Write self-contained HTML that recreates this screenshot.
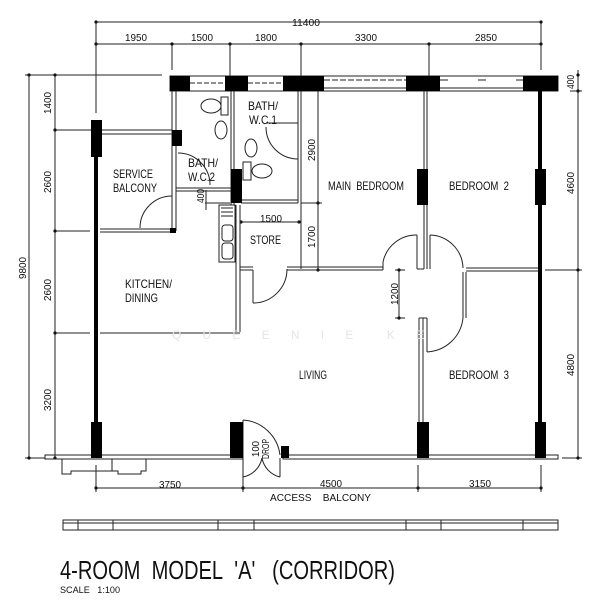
<!DOCTYPE html>
<html><head><meta charset="utf-8"><style>
html,body{margin:0;padding:0;background:#fff;}
svg{display:block;}
text{font-family:"Liberation Sans",sans-serif;fill:#111;}
</style></head><body>
<svg width="613" height="600" viewBox="0 0 613 600" xmlns="http://www.w3.org/2000/svg">
<rect width="613" height="600" fill="#fff"/>
<g stroke="#222" stroke-width="1" fill="none">
<line x1="96" y1="22" x2="541" y2="22"/>
<line x1="96" y1="44" x2="541" y2="44"/>
<line x1="96" y1="22" x2="96" y2="113"/>
<line x1="541" y1="22" x2="541" y2="70"/>
<line x1="172" y1="44" x2="172" y2="70"/>
<line x1="230" y1="44" x2="230" y2="76"/>
<line x1="301" y1="44" x2="301" y2="76"/>
<line x1="429" y1="44" x2="429" y2="76"/>
<line x1="29" y1="75" x2="29" y2="458"/>
<line x1="55" y1="75" x2="55" y2="458"/>
<line x1="25" y1="75" x2="162" y2="75"/>
<line x1="55" y1="130" x2="92" y2="130"/>
<line x1="55" y1="231" x2="90" y2="231"/>
<line x1="55" y1="333" x2="90" y2="333"/>
<line x1="25" y1="458" x2="45" y2="458"/>
<line x1="578" y1="70" x2="578" y2="458"/>
<line x1="570" y1="91" x2="582" y2="91"/>
<line x1="545" y1="270" x2="582" y2="270"/>
<line x1="562" y1="458" x2="582" y2="458"/>
<line x1="96" y1="488" x2="541" y2="488"/>
<line x1="96" y1="465" x2="96" y2="492"/>
<line x1="243" y1="465" x2="243" y2="492"/>
<line x1="418" y1="465" x2="418" y2="492"/>
<line x1="541" y1="465" x2="541" y2="492"/>
<line x1="318" y1="91" x2="318" y2="270"/>
<line x1="301" y1="203" x2="322" y2="203"/>
<line x1="241" y1="222" x2="299" y2="222"/>
<line x1="399" y1="270" x2="399" y2="318"/>
<line x1="395" y1="270" x2="405" y2="270"/>
<line x1="395" y1="318" x2="405" y2="318"/>
<line x1="205" y1="203" x2="230" y2="203"/>
<line x1="206" y1="190" x2="206" y2="210"/>
</g>
<g fill="#111">
<circle cx="96" cy="22" r="1.6"/><circle cx="541" cy="22" r="1.6"/>
<circle cx="96" cy="44" r="1.6"/><circle cx="172" cy="44" r="1.6"/><circle cx="230" cy="44" r="1.6"/><circle cx="301" cy="44" r="1.6"/><circle cx="429" cy="44" r="1.6"/><circle cx="541" cy="44" r="1.6"/>
<circle cx="29" cy="75" r="1.6"/><circle cx="55" cy="75" r="1.6"/><circle cx="55" cy="130" r="1.6"/><circle cx="55" cy="231" r="1.6"/><circle cx="55" cy="333" r="1.6"/><circle cx="55" cy="458" r="1.6"/><circle cx="29" cy="458" r="1.6"/>
<circle cx="578" cy="75" r="1.6"/><circle cx="578" cy="91" r="1.6"/><circle cx="578" cy="270" r="1.6"/><circle cx="578" cy="458" r="1.6"/>
<circle cx="96" cy="488" r="1.6"/><circle cx="243" cy="488" r="1.6"/><circle cx="418" cy="488" r="1.6"/><circle cx="541" cy="488" r="1.6"/>
<circle cx="318" cy="203" r="1.6"/><circle cx="318" cy="270" r="1.6"/><circle cx="241" cy="222" r="1.6"/><circle cx="299" cy="222" r="1.6"/>
<circle cx="399" cy="270" r="1.6"/><circle cx="399" cy="318" r="1.6"/>
</g>
<g stroke="#222" stroke-width="1" fill="none">
<rect x="170" y="76" width="388" height="15"/>
<line x1="190" y1="83" x2="225" y2="83" stroke-dasharray="5,2"/>
<line x1="248" y1="83" x2="283" y2="83" stroke-dasharray="5,2"/>
<line x1="324" y1="80" x2="406" y2="80" stroke-dasharray="6,2"/>
<line x1="440" y1="80" x2="523" y2="80" stroke-dasharray="8,30"/>
<line x1="324" y1="88" x2="406" y2="88"/>
<line x1="440" y1="88" x2="523" y2="88"/>
<line x1="100" y1="130" x2="172" y2="130"/><line x1="100" y1="134" x2="172" y2="134"/>
<line x1="172" y1="91" x2="172" y2="231"/><line x1="176" y1="91" x2="176" y2="231"/>
<line x1="100" y1="229" x2="176" y2="229"/><line x1="100" y1="232" x2="176" y2="232"/>
<path d="M140 228 A32 32 0 0 1 172 196"/><line x1="172" y1="196" x2="172" y2="228"/>
<line x1="176" y1="188" x2="231" y2="188"/><line x1="176" y1="191" x2="231" y2="191"/>
<path d="M178 153 A32 32 0 0 1 210 185"/>
<line x1="231" y1="91" x2="231" y2="205"/><line x1="234" y1="91" x2="234" y2="205"/>
<line x1="298" y1="91" x2="298" y2="203"/><line x1="301" y1="91" x2="301" y2="269"/>
<line x1="241" y1="200" x2="298" y2="200"/><line x1="241" y1="203" x2="298" y2="203"/>
<line x1="266" y1="123" x2="298" y2="123"/>
<path d="M266 127 A32 32 0 0 0 298 159"/>
<ellipse cx="211" cy="106" rx="10" ry="7"/><rect x="221" y="97" width="7" height="18"/>
<ellipse cx="221" cy="130" rx="6" ry="9"/>
<ellipse cx="251" cy="148" rx="6" ry="9"/>
<ellipse cx="262" cy="171" rx="10" ry="7"/><rect x="243" y="162" width="8" height="18"/>
<rect x="219" y="205" width="16" height="57"/>
<rect x="222" y="225" width="11" height="16" rx="3"/><rect x="222" y="243" width="11" height="16" rx="3"/>
<line x1="221" y1="208" x2="233" y2="208"/><line x1="221" y1="212" x2="233" y2="212"/><line x1="221" y1="216" x2="233" y2="216"/>
<line x1="236" y1="205" x2="236" y2="332"/><line x1="240" y1="205" x2="240" y2="332"/>
<line x1="100" y1="333" x2="240" y2="333"/>
<line x1="240" y1="267" x2="253" y2="267"/><line x1="240" y1="270" x2="253" y2="270"/>
<line x1="287" y1="267" x2="383" y2="267"/><line x1="287" y1="270" x2="383" y2="270"/>
<line x1="253" y1="270" x2="253" y2="303"/><path d="M253 303 A34 34 0 0 0 287 269"/>
<line x1="383" y1="262" x2="383" y2="270"/>
<path d="M383 262 A34 34 0 0 1 417 235"/><line x1="417" y1="235" x2="417" y2="269"/>
<line x1="424" y1="91" x2="424" y2="269"/><line x1="427" y1="91" x2="427" y2="269"/>
<line x1="417" y1="269" x2="424" y2="269"/>
<path d="M430 235 A34 34 0 0 1 463 268"/><line x1="430" y1="235" x2="430" y2="269"/>
<line x1="466" y1="268" x2="538" y2="268"/><line x1="466" y1="271" x2="538" y2="271"/>
<line x1="463" y1="272" x2="463" y2="318"/><line x1="466" y1="272" x2="466" y2="318"/>
<line x1="419" y1="318" x2="419" y2="456"/><line x1="423" y1="318" x2="423" y2="456"/>
<line x1="419" y1="318" x2="427" y2="318"/><line x1="427" y1="318" x2="427" y2="352"/>
<path d="M427 352 A38 38 0 0 0 463 318"/>
<rect x="45" y="455" width="198" height="4"/>
<rect x="283" y="455" width="275" height="4"/>
<path d="M62 459 V474 H71 V471 H118 V474 H141 V471 H146 V459"/>
<line x1="112" y1="459" x2="112" y2="471"/>
<path d="M243 420 A40 40 0 0 1 280 455"/><line x1="243" y1="420" x2="243" y2="455"/>
<path d="M243 477 A24 24 0 0 0 262 458 A24 24 0 0 0 280 477"/><line x1="243" y1="458" x2="243" y2="477"/><line x1="280" y1="458" x2="280" y2="477"/>
<rect x="63" y="520" width="495" height="10"/>
<line x1="63" y1="523" x2="558" y2="523"/>
<line x1="78" y1="520" x2="78" y2="530"/><line x1="113" y1="520" x2="113" y2="530"/>
<line x1="218" y1="520" x2="218" y2="530"/><line x1="254" y1="520" x2="254" y2="530"/>
<line x1="406" y1="520" x2="406" y2="530"/><line x1="441" y1="520" x2="441" y2="530"/>
<line x1="523" y1="520" x2="523" y2="530"/>
</g>
<g fill="#000">
<rect x="170" y="76" width="20" height="15"/>
<rect x="225" y="76" width="23" height="15"/>
<rect x="283" y="76" width="41" height="15"/>
<rect x="406" y="76" width="34" height="15"/>
<rect x="523" y="76" width="35" height="15"/>
<rect x="94" y="130" width="4" height="328"/>
<rect x="91" y="120" width="11" height="37"/>
<rect x="91" y="422" width="11" height="36"/>
<rect x="172" y="130" width="10" height="16"/>
<rect x="231" y="169" width="11" height="34"/>
<rect x="538" y="91" width="4" height="367"/>
<rect x="535" y="169" width="11" height="36"/>
<rect x="535" y="422" width="11" height="36"/>
<rect x="417" y="169" width="11" height="36"/>
<rect x="417" y="422" width="12" height="36"/>
<rect x="230" y="422" width="13" height="36"/>
<rect x="281" y="446" width="8" height="12"/>
<rect x="170" y="228" width="6" height="5"/>
</g>
<g font-size="10.5">
<text x="292" y="26" textLength="28" lengthAdjust="spacingAndGlyphs">11400</text>
<text x="125" y="41" textLength="22" lengthAdjust="spacingAndGlyphs">1950</text>
<text x="191" y="41" textLength="22" lengthAdjust="spacingAndGlyphs">1500</text>
<text x="255" y="41" textLength="22" lengthAdjust="spacingAndGlyphs">1800</text>
<text x="355" y="41" textLength="22" lengthAdjust="spacingAndGlyphs">3300</text>
<text x="475" y="41" textLength="22" lengthAdjust="spacingAndGlyphs">2850</text>
<text x="159" y="488" textLength="22" lengthAdjust="spacingAndGlyphs">3750</text>
<text x="320" y="487" textLength="22" lengthAdjust="spacingAndGlyphs">4500</text>
<text x="469" y="487" textLength="22" lengthAdjust="spacingAndGlyphs">3150</text>
<text x="270" y="501" textLength="101" lengthAdjust="spacingAndGlyphs">ACCESS&#160;&#160;&#160;&#160;BALCONY</text>
<text x="260" y="222" textLength="22" lengthAdjust="spacingAndGlyphs">1500</text>
<text transform="translate(51,114) rotate(-90)" textLength="22" lengthAdjust="spacingAndGlyphs">1400</text>
<text transform="translate(51,193) rotate(-90)" textLength="22" lengthAdjust="spacingAndGlyphs">2600</text>
<text transform="translate(51,301) rotate(-90)" textLength="22" lengthAdjust="spacingAndGlyphs">2600</text>
<text transform="translate(51,411) rotate(-90)" textLength="22" lengthAdjust="spacingAndGlyphs">3200</text>
<text transform="translate(26,279) rotate(-90)" textLength="22" lengthAdjust="spacingAndGlyphs">9800</text>
<text transform="translate(574,89) rotate(-90)" textLength="14" lengthAdjust="spacingAndGlyphs">400</text>
<text transform="translate(574,194) rotate(-90)" textLength="22" lengthAdjust="spacingAndGlyphs">4600</text>
<text transform="translate(574,376) rotate(-90)" textLength="22" lengthAdjust="spacingAndGlyphs">4800</text>
<text transform="translate(315,161) rotate(-90)" textLength="22" lengthAdjust="spacingAndGlyphs">2900</text>
<text transform="translate(315,248) rotate(-90)" textLength="22" lengthAdjust="spacingAndGlyphs">1700</text>
<text transform="translate(398,305) rotate(-90)" textLength="22" lengthAdjust="spacingAndGlyphs">1200</text>
<text transform="translate(204,203) rotate(-90)" textLength="14" lengthAdjust="spacingAndGlyphs">400</text>
<text transform="translate(259,457) rotate(-90)" textLength="16" lengthAdjust="spacingAndGlyphs">100</text>
<text transform="translate(269,459) rotate(-90)" textLength="20" lengthAdjust="spacingAndGlyphs">DROP</text>
</g>
<g font-size="12">
<text x="113" y="178" textLength="40" lengthAdjust="spacingAndGlyphs">SERVICE</text>
<text x="113" y="192" textLength="44" lengthAdjust="spacingAndGlyphs">BALCONY</text>
<text x="188" y="167" textLength="30" lengthAdjust="spacingAndGlyphs">BATH/</text>
<text x="188" y="181" textLength="27" lengthAdjust="spacingAndGlyphs">W.C.2</text>
<text x="248" y="110" textLength="30" lengthAdjust="spacingAndGlyphs">BATH/</text>
<text x="249" y="124" textLength="28" lengthAdjust="spacingAndGlyphs">W.C.1</text>
<text x="328" y="190" textLength="76" lengthAdjust="spacingAndGlyphs">MAIN&#160;&#160;BEDROOM</text>
<text x="449" y="190" textLength="60" lengthAdjust="spacingAndGlyphs">BEDROOM&#160;&#160;2</text>
<text x="250" y="244" textLength="31" lengthAdjust="spacingAndGlyphs">STORE</text>
<text x="125" y="288" textLength="47" lengthAdjust="spacingAndGlyphs">KITCHEN/</text>
<text x="125" y="302" textLength="33" lengthAdjust="spacingAndGlyphs">DINING</text>
<text x="299" y="379" textLength="28" lengthAdjust="spacingAndGlyphs">LIVING</text>
<text x="449" y="379" textLength="60" lengthAdjust="spacingAndGlyphs">BEDROOM&#160;&#160;3</text>
</g>
<text x="172" y="339" font-size="12" style="fill:#e4e4e4" textLength="252" lengthAdjust="spacing">Q U E E N I E &#160;K E</text>
<text x="60" y="579" font-size="26" textLength="335" lengthAdjust="spacingAndGlyphs">4-ROOM&#160;&#160;MODEL&#160;&#160;'A'&#160;&#160;&#160;(CORRIDOR)</text>
<text x="60" y="593" font-size="9" textLength="60" lengthAdjust="spacingAndGlyphs">SCALE&#160;&#160;&#160;1:100</text>
</svg>
</body></html>
